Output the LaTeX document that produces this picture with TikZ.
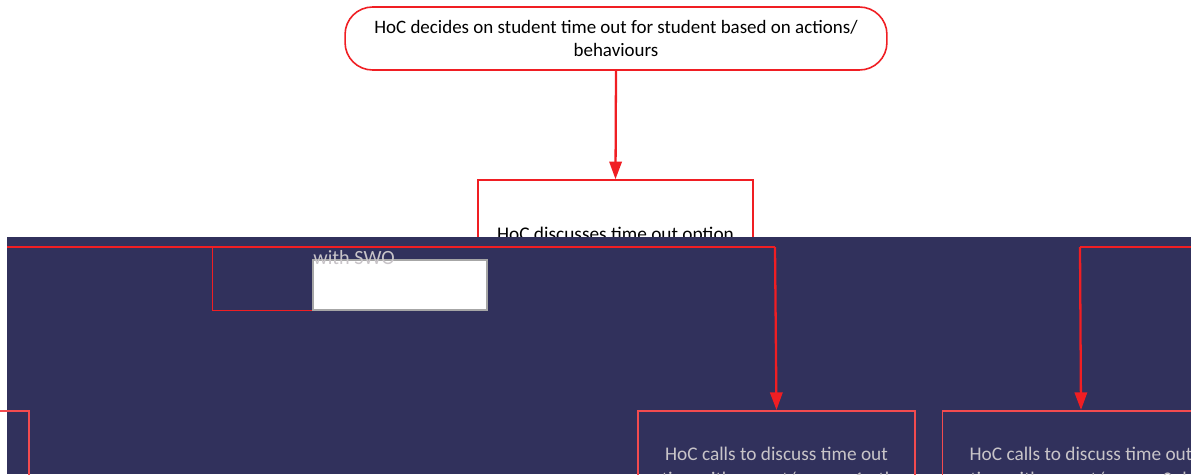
\documentclass[tikz,border=0pt]{standalone}
\usepackage{fontspec}
\setmainfont{Carlito}
\usetikzlibrary{arrows.meta}

\definecolor{flowred}{RGB}{240,30,35}
\definecolor{navyband}{RGB}{49,49,92}
\definecolor{ghosttext}{RGB}{200,196,200}

\tikzset{
  stepbox/.style={draw=flowred, line width=0.9pt, inner sep=2pt, align=center},
  link/.style={draw=flowred, line width=1.3pt, -{Triangle[width=7pt,length=10pt]}},
  redline/.style={draw=flowred, line width=1.3pt},
}

\begin{document}
\begin{tikzpicture}[x=0.02cm,y=-0.02cm, font=\fontsize{10.8}{13}\selectfont]
        \useasboundingbox (0,0) rectangle (1191,474);
        \fill[white] (0,0) rectangle (1191,474);

        % ---- top of the flow --------------------------------
        \node[stepbox, rounded corners=0.55cm, minimum width=10.84cm, minimum height=1.26cm] (decide)
              at (616,38.5)
              {HoC decides on student time out for student based on actions/\\behaviours};
        \node[stepbox, minimum width=5.5cm, minimum height=2.2cm, font=\fontsize{11}{13}\selectfont]
              (discuss) at (615.5,235) {HoC discusses time out option};
        \draw[link] (decide.south) -- (discuss.north);

        % ---- dark band over the lower half ------------------
        \fill[navyband] (7,237) rectangle (1191,474);

        \coordinate (leftend)  at (7,247);
        \coordinate (rightend) at (1191,247);
        \coordinate (midturn)  at (775,247);
        \coordinate (farturn)  at (1080,247);

        % ---- boxes inside the band --------------------------
        \node[minimum width=5.48cm, minimum height=1.26cm] (swo) at (350,278.5) {};
        \draw[redline, line width=0.9pt] (swo.north west) -- (swo.south west) -- (swo.south east);
        \node[fill=white, draw=gray!70, line width=0.6pt, minimum width=3.48cm, minimum height=1cm,
              inner sep=0pt] (blank) at (400,285) {};
        \node[text=ghosttext, anchor=west, inner sep=0pt, font=\fontsize{11.5}{13}\selectfont]
              (swotext) at (313,258) {with SWO};

        \node[stepbox, draw=flowred!80!white, text=ghosttext, minimum width=5.54cm, minimum height=2cm,
              anchor=north, font=\fontsize{11}{14}\selectfont] (callone) at (776.5,410)
              {\\[2pt]HoC calls to discuss time out\\option with parent/carer -- 1 other};
        \node[stepbox, draw=flowred!80!white, text=ghosttext, minimum width=5.54cm, minimum height=2cm,
              anchor=north, font=\fontsize{11}{14}\selectfont] (calltwo) at (1081,410)
              {\\[2pt]HoC calls to discuss time out\\option with parent/carer -- 2 days};
        \node[stepbox, draw=flowred!80!white, minimum width=5.54cm, minimum height=2cm,
              anchor=north east] (callzero) at (30,410) {};

        % ---- connectors -------------------------------------
        \draw[redline] (leftend) -- (midturn);
        \draw[link] (midturn) -- (callone.north);
        \draw[redline] (rightend) -- (farturn);
        \draw[link] (farturn) -- (calltwo.north);
\end{tikzpicture}
\end{document}
